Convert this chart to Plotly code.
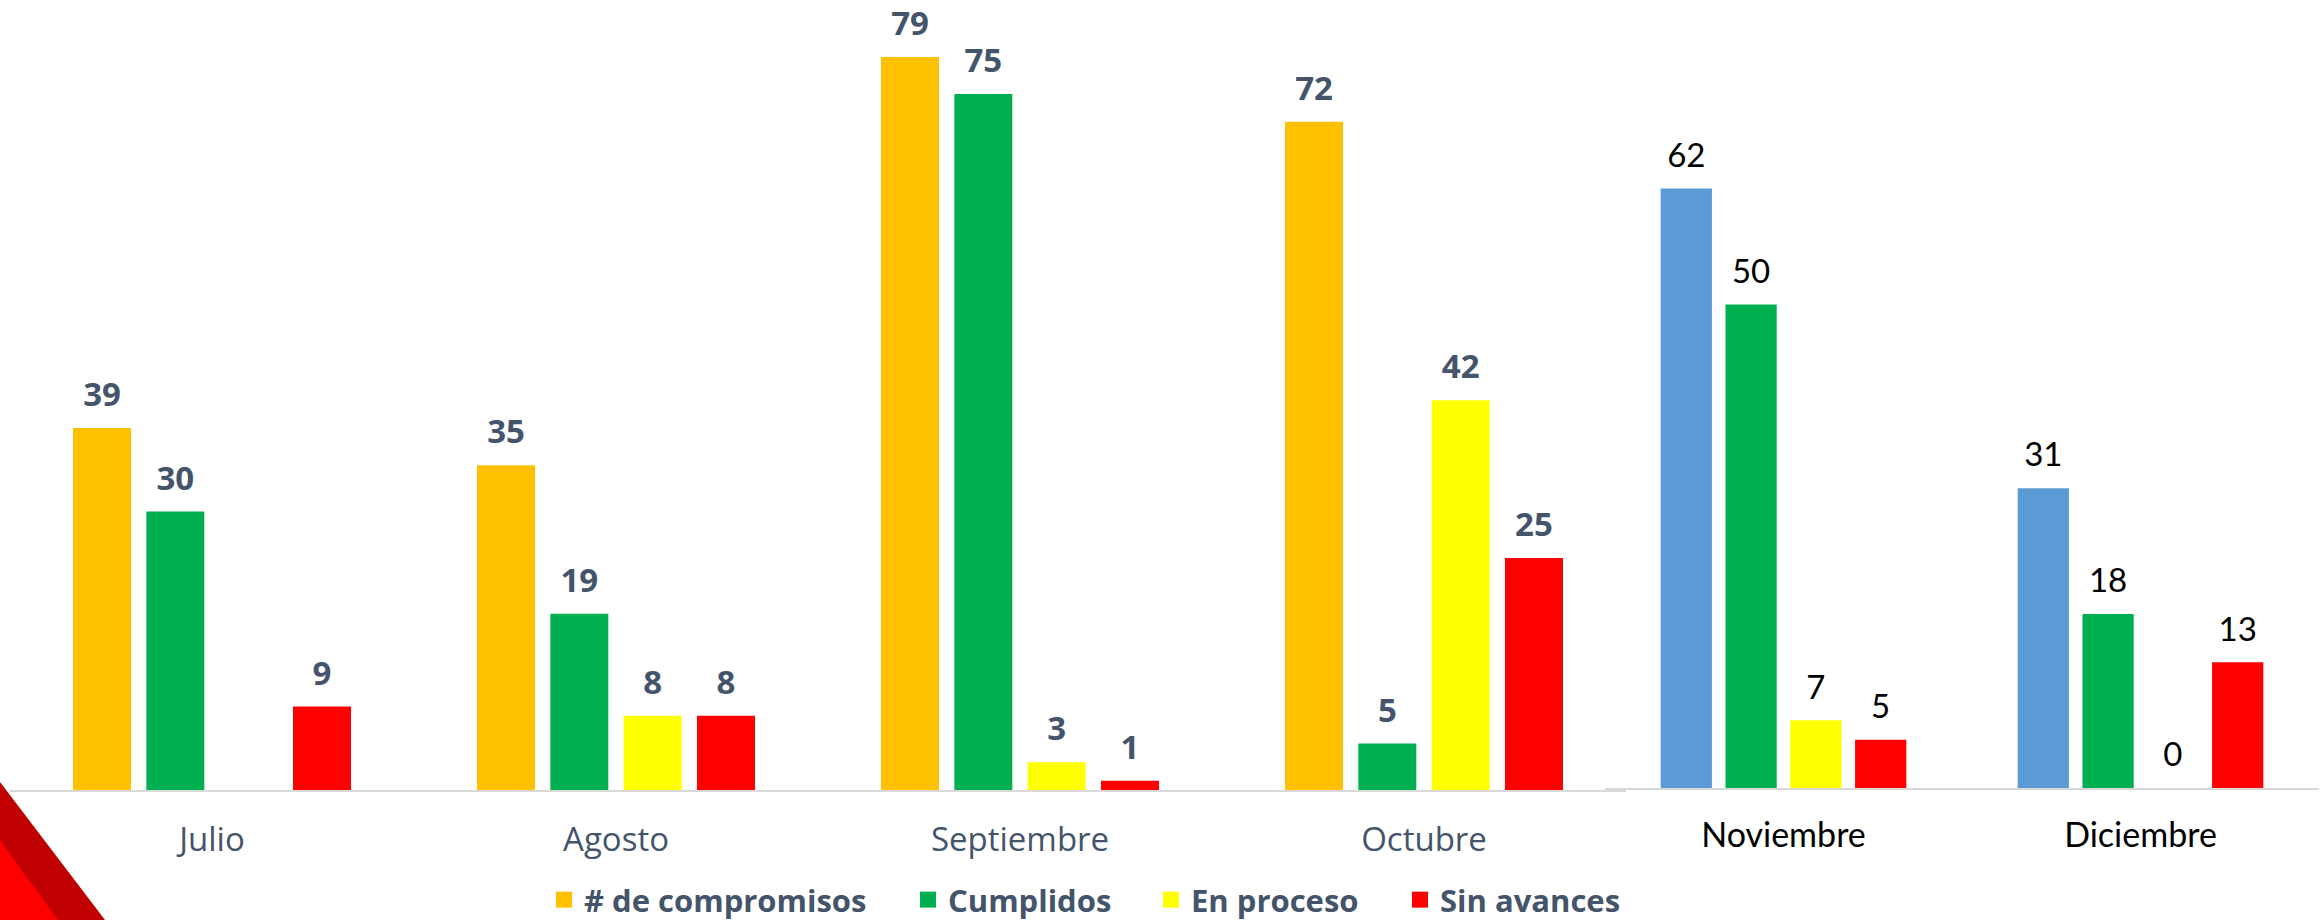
import plotly.graph_objects as go

# ---------------- data ----------------
months_left = ["Julio", "Agosto", "Septiembre", "Octubre"]
compromisos_left = [39, 35, 79, 72]
cumplidos_left = [30, 19, 75, 5]
en_proceso_left = [None, 8, 3, 42]
sin_avances_left = [9, 8, 1, 25]

months_right = ["Noviembre", "Diciembre"]
compromisos_right = [62, 31]
cumplidos_right = [50, 18]
en_proceso_right = [7, 0]
sin_avances_right = [5, 13]

series_names = ["# de compromisos", "Cumplidos", "En proceso", "Sin avances"]

# ---------------- style ----------------
W, H = 2323, 920
colors_left = ["#FFC000", "#00B050", "#FFFF00", "#FF0000"]
colors_right = ["#5B9BD5", "#00B050", "#FFFF00", "#FF0000"]
legend_colors = ["#FFC000", "#00B050", "#FFFF00", "#FF0000"]
PITCH = 0.1815
BARW = 0.1435
SLATE = "#44546A"

fig = go.Figure()


def add_group(months, series, colors, xa, ya, lab_font):
    idx = list(range(len(months)))
    for i, (vals, col) in enumerate(zip(series, colors)):
        xs = [j + (i - 1.5) * PITCH for j in idx]
        fig.add_trace(go.Bar(
            x=xs, y=vals, width=BARW, marker=dict(color=col, line=dict(width=0)),
            xaxis=xa, yaxis=ya, showlegend=False, hoverinfo="skip",
        ))
        fig.add_trace(go.Scatter(
            x=xs, y=vals, mode="markers+text",
            text=[("" if v is None else str(v)) for v in vals],
            textposition="top center", textfont=lab_font,
            marker=dict(size=20, color="rgba(0,0,0,0)"),
            xaxis=xa, yaxis=ya, showlegend=False, hoverinfo="skip", cliponaxis=False,
        ))


add_group(months_left,
          [compromisos_left, cumplidos_left, en_proceso_left, sin_avances_left],
          colors_left, "x", "y",
          dict(family="Open Sans", size=33, color=SLATE, weight="bold"))
add_group(months_right,
          [compromisos_right, cumplidos_right, en_proceso_right, sin_avances_right],
          colors_right, "x2", "y2",
          dict(family="Lato", size=33, color="#000000"))

# legend-only entries (one legend each, to reproduce spacing)
legend_ids = ["legend", "legend2", "legend3", "legend4"]
for name, col, lg in zip(series_names, legend_colors, legend_ids):
    fig.add_trace(go.Scatter(
        x=[None], y=[None], mode="markers", name=name,
        marker=dict(symbol="square", size=16, color=col),
        legend=lg, showlegend=True, xaxis="x", yaxis="y",
    ))

text_starts = [584, 948, 1191, 1440]
leg_font = dict(family="Open Sans", size=31, color=SLATE, weight="bold")
legend_layout = {}
for lg, xs in zip(legend_ids, text_starts):
    legend_layout[lg] = dict(
        x=(xs - 40) / W, y=(H - 900) / H, xanchor="left", yanchor="middle",
        orientation="h", font=leg_font, bgcolor="rgba(0,0,0,0)", borderwidth=0,
    )

# axes geometry
left_dom = [10 / W, 1626 / W]
right_dom = [1605 / W, 2319 / W]
yl_base = (H - 790) / H
yr_base = (H - 788) / H
yl_max = 790 / 9.28
yr_max = 788 / 9.67

fig.update_layout(
    width=W, height=H, autosize=False,
    margin=dict(l=0, r=0, t=0, b=0, autoexpand=False),
    paper_bgcolor="white", plot_bgcolor="rgba(0,0,0,0)",
    barmode="overlay",
    xaxis=dict(domain=left_dom, range=[-0.5, len(months_left) - 0.5],
               tickvals=list(range(len(months_left))), ticktext=months_left,
               tickfont=dict(family="Open Sans", size=33, color=SLATE),
               ticklabelstandoff=19,
               showline=True, linecolor="#D9D9D9", linewidth=2,
               showgrid=False, zeroline=False, ticks="", anchor="y", fixedrange=True),
    yaxis=dict(domain=[yl_base, 1.0], range=[0, yl_max], visible=False,
               anchor="x", fixedrange=True),
    xaxis2=dict(domain=right_dom, range=[-0.5, len(months_right) - 0.5],
                tickvals=list(range(len(months_right))), ticktext=months_right,
                tickfont=dict(family="Lato", size=34, color="#000000"),
                ticklabelstandoff=16,
                showline=True, linecolor="#D9D9D9", linewidth=2,
                showgrid=False, zeroline=False, ticks="", anchor="y2", fixedrange=True),
    yaxis2=dict(domain=[yr_base, 1.0], range=[0, yr_max], visible=False,
                anchor="x2", fixedrange=True),
    shapes=[
        dict(type="path", xref="paper", yref="paper", layer="below",
             path=f"M 0,{(H-782)/H} L {105/W},0 L 0,0 Z",
             fillcolor="#C00000", line=dict(width=0)),
        dict(type="path", xref="paper", yref="paper", layer="below",
             path=f"M 0,{(H-840)/H} L {58/W},0 L 0,0 Z",
             fillcolor="#FF0000", line=dict(width=0)),
    ],
    **legend_layout,
)

fig.write_html(
    "out.html",
    config={"displayModeBar": False},
    post_script="document.body.style.margin='0px';document.body.style.overflow='hidden';",
)
